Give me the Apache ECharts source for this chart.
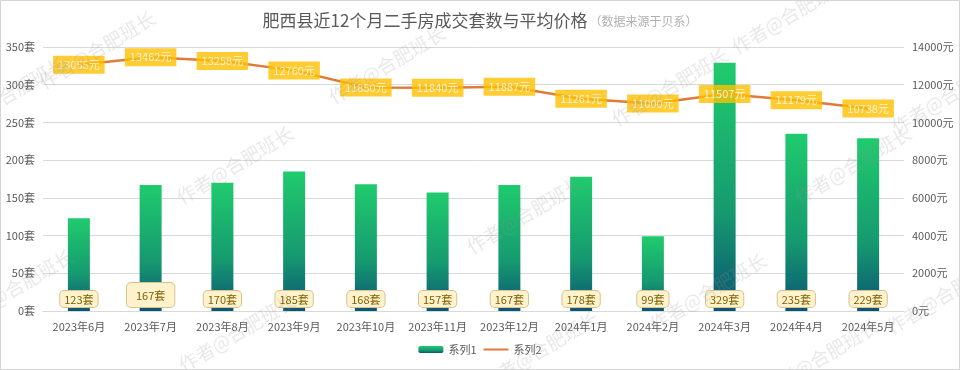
<!DOCTYPE html>
<html>
<head>
<meta charset="utf-8">
<script src="https://cdn.jsdelivr.net/npm/echarts@6/dist/echarts.min.js"></script>
<style>
html,body{margin:0;padding:0;background:#fff;}
#c{width:960px;height:370px;}
</style>
</head>
<body>
<div id="c"></div>
<script>
const categories = ['2023年6月','2023年7月','2023年8月','2023年9月','2023年10月','2023年11月','2023年12月','2024年1月','2024年2月','2024年3月','2024年4月','2024年5月'];
const counts = [123,167,170,185,168,157,167,178,99,329,235,229];
const prices = [13055,13462,13258,12760,11850,11840,11887,11261,11000,11507,11179,10738];
const leftTicks = {min:0, max:350, interval:50};
const rightTicks = {min:0, max:14000, interval:2000};
const watermark = '作者@合肥班长';

const FONT = '"Noto Sans CJK SC", "Microsoft YaHei", sans-serif';
const chart = echarts.init(document.getElementById('c'), null, {renderer:'canvas'});

const wmPos = [[97,50],[8,95],[235,165],[387,65],[525,215],[237,333],[670,87],[790,15],[708,292],[853,165],[540,350],[820,358],[950,95],[945,295],[15,288]];
const graphics = wmPos.map(p => ({
  type:'text', x:p[0], y:p[1], rotation:0.54, silent:true, z:100,
  style:{text:watermark, textAlign:'center', textVerticalAlign:'middle',
    fill:'rgba(150,150,150,0.22)', font:'19px ' + FONT}
}));
graphics.push({type:'rect', shape:{x:0.5,y:0.5,width:959,height:369}, silent:true, z:101,
  style:{fill:'none', stroke:'#d4d4d4', lineWidth:1}});

const barGrad = new echarts.graphic.LinearGradient(0,0,0,1,[
  {offset:0, color:'#1fcb6d'},
  {offset:0.6, color:'#169a70'},
  {offset:1, color:'#0b5472'}
]);

chart.setOption({
  backgroundColor:'#ffffff',
  textStyle:{fontFamily:FONT},
  title:{
    text:'{a|肥西县近12个月二手房成交套数与平均价格}{b|（数据来源于贝系）}',
    left:'center', top:7,
    textStyle:{fontWeight:'normal', rich:{
      a:{fontSize:17, color:'#595959', fontFamily:FONT, fontWeight:'normal'},
      b:{fontSize:12, color:'#b0b0b0', fontFamily:FONT, fontWeight:'normal', padding:[2,0,0,2]}
    }}
  },
  grid:{left:43, right:56, top:47, bottom:59},
  legend:{
    bottom:10, left:'center', itemWidth:25, itemHeight:7, itemGap:6,
    textStyle:{color:'#595959', fontSize:11, fontFamily:FONT},
    data:['系列1', {name:'系列2', itemStyle:{opacity:0}}]
  },
  xAxis:{
    type:'category', data:categories,
    axisLine:{lineStyle:{color:'#d9d9d9'}},
    axisTick:{show:false},
    axisLabel:{color:'#595959', fontSize:11, margin:10, interval:0}
  },
  yAxis:[
    {type:'value', min:leftTicks.min, max:leftTicks.max, interval:leftTicks.interval,
     axisLabel:{color:'#595959', fontSize:11, margin:8, formatter:v => v + '套'},
     axisLine:{show:false}, axisTick:{show:false},
     splitLine:{lineStyle:{color:'#d9d9d9'}}},
    {type:'value', min:rightTicks.min, max:rightTicks.max, interval:rightTicks.interval,
     axisLabel:{color:'#595959', fontSize:11, margin:8, formatter:v => v + '元'},
     axisLine:{show:false}, axisTick:{show:false},
     splitLine:{show:false}}
  ],
  series:[
    {
      name:'系列1', type:'bar', yAxisIndex:0, barWidth:22,
      itemStyle:{color:barGrad},
      data:counts.map((v,i) => i === 1 ? {value:v, label:{padding:[7,9,6,9]}} : v),
      label:{
        show:true, position:'insideBottom', distance:4,
        formatter:'{c}套', color:'#7f6000', fontSize:11,
        backgroundColor:'#fff2cc', borderColor:'#d6c28e', borderWidth:1,
        borderRadius:4, padding:[3,4,2,4]
      },
      z:2
    },
    {
      name:'系列2', type:'line', yAxisIndex:1, symbol:'none',
      data:prices,
      lineStyle:{color:'#e07b39', width:2.5},
      itemStyle:{color:'#e07b39'},
      z:3
    },
    {
      name:'价格标签', type:'scatter', yAxisIndex:1, symbolSize:2,
      data:prices,
      itemStyle:{color:'rgba(0,0,0,0)'},
      label:{
        show:true, position:'inside', formatter:p => p.value + '元',
        color:'#ffffff', fontSize:11, backgroundColor:'#ffc000',
        padding:[4,5,3,5]
      },
      labelLayout:{hideOverlap:false},
      z:4
    }
  ],
  graphic:graphics
});
</script>
</body>
</html>
